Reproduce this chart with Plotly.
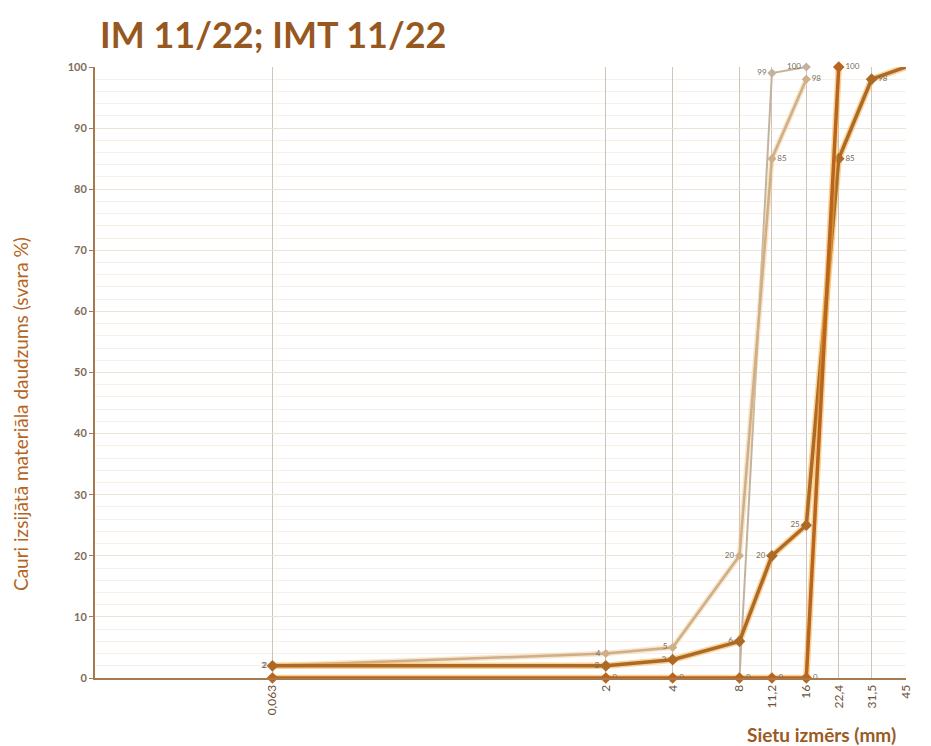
import plotly.graph_objects as go

# sieve sizes (mm) and their tick labels
sieves = [0.063, 2, 4, 8, 11.2, 16, 22.4, 31.5, 45]
sieve_labels = ["0,063", "2", "4", "8", "11,2", "16", "22,4", "31,5", "45"]

# IM 11/22 envelope (light)
im_upper_x = [0.063, 2, 4, 8, 11.2, 16]
im_upper_y = [2, 4, 5, 20, 85, 98]
im_lower_x = [0.063, 2, 4, 8, 11.2, 16]
im_lower_y = [0, 0, 0, 0, 99, 100]

# IMT 11/22 envelope (dark)
imt_upper_x = [0.063, 2, 4, 8, 11.2, 16, 22.4, 31.5, 45]
imt_upper_y = [2, 2, 3, 6, 20, 25, 85, 98, 100]
imt_lower_x = [0.063, 2, 4, 8, 11.2, 16, 22.4]
imt_lower_y = [0, 0, 0, 0, 0, 0, 100]

fig = go.Figure()

def add_series(x, y, color, width, msize, positions, shown=None, glow=None):
    texts = [str(v) if (shown is None or shown[i]) else "" for i, v in enumerate(y)]
    if glow:
        # soft halo under the line, like the original chart
        fig.add_trace(go.Scatter(
            x=x, y=y, mode="lines", line=dict(color=glow, width=width + 3),
            hoverinfo="skip", showlegend=False,
        ))
    fig.add_trace(go.Scatter(
        x=x, y=y, mode="lines+markers+text",
        line=dict(color=color, width=width),
        marker=dict(symbol="diamond", size=msize, color=color),
        text=texts, textposition=positions,
        textfont=dict(size=8, color="#7a6a5a", family="Lato"),
        cliponaxis=False, showlegend=False,
    ))

add_series(im_lower_x, im_lower_y, "#c3b39e", 2, 7,
           ["middle left"] * 6,
           [False, False, False, False, True, True])
add_series(im_upper_x, im_upper_y, "#cfae8a", 2.5, 7,
           ["middle left"] * 4 + ["middle right", "middle right"],
           glow="rgba(240,200,140,0.45)")
add_series(imt_upper_x, imt_upper_y, "#ad6a26", 3.5, 9,
           ["middle left"] * 6 + ["middle right"] * 3,
           glow="rgba(245,175,70,0.55)")
add_series(imt_lower_x, imt_lower_y, "#b8651f", 3.5, 9,
           ["middle right"] * 7,
           [False, True, True, True, True, True, True],
           glow="rgba(245,175,70,0.55)")

fig.update_xaxes(
    type="log", range=[-2, 1.6532],
    tickvals=sieves, ticktext=sieve_labels, tickangle=-90,
    tickfont=dict(size=12, color="#6b5238", family="Lato"),
    showgrid=True, gridcolor="#cfc4b8", gridwidth=1,
    showline=True, linecolor="#a8794a", linewidth=2,
    zeroline=False, automargin=False,
)
fig.update_yaxes(
    range=[0, 100], dtick=10,
    tickfont=dict(size=11, color="#7d6c5a", family="Lato", weight="bold"),
    ticks="outside", ticklen=4, tickcolor="#a8794a",
    showgrid=True, gridcolor="#ece2d6", gridwidth=1,
    minor=dict(dtick=2, showgrid=True, gridcolor="#f6f0e8"),
    showline=True, linecolor="#a8794a", linewidth=2,
    zeroline=False, automargin=False,
)

# axis titles placed by hand to match the original
fig.add_annotation(
    text="Cauri izsijātā materiāla daudzums (svara %)", xref="paper", yref="paper",
    x=-0.0925, y=0.432, textangle=-90, xanchor="center", yanchor="middle",
    showarrow=False, font=dict(size=19, color="#b5651d", family="Lato"),
)
fig.add_annotation(
    text="<b>Sietu izmērs (mm)</b>", xref="paper", yref="paper",
    x=0.99, y=-0.093, xanchor="right", yanchor="middle", showarrow=False,
    font=dict(size=19, color="#9a5a22", family="Lato"),
)

fig.update_layout(
    width=923, height=738,
    margin=dict(l=87, r=25, t=59, b=68),
    paper_bgcolor="white", plot_bgcolor="white",
    title=dict(text="<b>IM 11/22; IMT 11/22</b>", x=92 / 923, xanchor="left",
               y=1 - 27 / 738, yanchor="middle",
               font=dict(size=36, color="#97581f", family="Lato")),
)

fig.write_html("out.html")
